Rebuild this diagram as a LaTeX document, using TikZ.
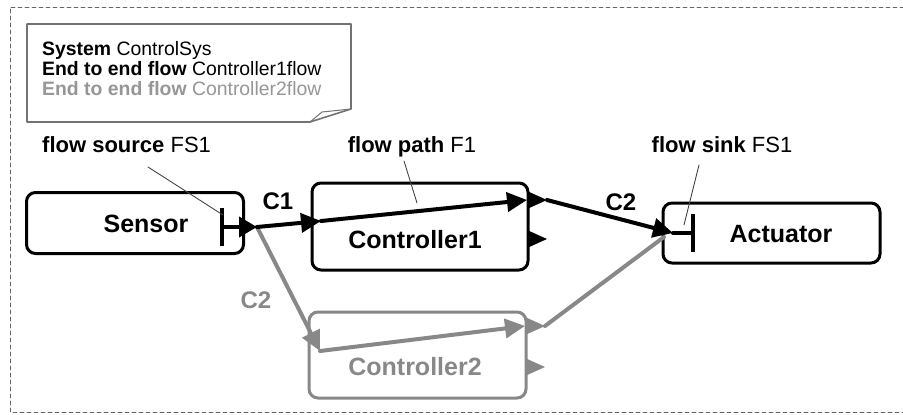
\documentclass[tikz,border=0pt]{standalone}
\usepackage{fontspec}
\setmainfont{Liberation Sans}
\usepackage{tikz}
\usetikzlibrary{arrows.meta, calc}
\definecolor{flowgray}{RGB}{136,136,136}
\definecolor{notegray}{RGB}{150,150,150}
\definecolor{linegray}{RGB}{70,70,70}

\begin{document}
\begin{tikzpicture}[x=1pt, y=-1pt, line cap=round,
	comp/.style={draw, line width=3pt, rounded corners=9pt, inner sep=0pt},
	complabel/.style={font=\fontsize{25}{30}\selectfont\bfseries, anchor=base, inner sep=0pt},
	lbl/.style={font=\fontsize{22}{26}\selectfont, anchor=base, inner sep=0pt},
	conlbl/.style={font=\fontsize{24}{28}\selectfont\bfseries, anchor=base, inner sep=0pt},
	notetext/.style={font=\fontsize{19.4}{23}\selectfont, anchor=base west, inner sep=0pt},
	flow/.style={line width=4pt, -{Triangle[length=20pt, width=19pt]}},
	leader/.style={linegray, line width=0.9pt}]

	\useasboundingbox (0,0) rectangle (903,415);

	% frame and note
	\draw[black!60, line width=0.9pt, dash pattern=on 4pt off 3pt] (904,7) -- (10,7) -- (10,412) -- (904,412);
	\draw[fill=white, draw=black!55, line width=1.6pt, line join=round] (27,24) -- (351,24) -- (351,109) -- (310,122) -- (27,122) -- cycle;
	\draw[black!55, line width=1pt, line join=round] (310,122) -- (322,112) -- (351,109);
	\node[notetext] (sysline) at (42,55) {\textbf{System} ControlSys};
	\node[notetext] (flowone) at (42,75) {\textbf{End to end flow} Controller1flow};
	\node[notetext, text=notegray] (flowtwo) at (42,95) {\textbf{End to end flow} Controller2flow};

	% components
	\node[comp, minimum width=217pt, minimum height=61pt] (sensor) at (135,223) {};
	\node[comp, minimum width=216pt, minimum height=87pt] (ctrlone) at (420,226.5) {};
	\node[comp, draw=flowgray, minimum width=217pt, minimum height=86pt] (ctrltwo) at (417.5,355) {};
	\node[comp, minimum width=217pt, minimum height=60pt] (actuator) at (771.5,233) {};

	\node[complabel] (sensortxt) at (146,232) {Sensor};
	\node[complabel] (ctrlonetxt) at (415,248) {Controller1};
	\node[complabel, text=flowgray] (ctrltwotxt) at (415,375) {Controller2};
	\node[complabel] (actuatortxt) at (781,242) {Actuator};

	% ports
	\coordinate (src) at (220,227);
	\coordinate (sensorOut) at (257,227);
	\coordinate (ctrloneIn) at (321,221);
	\coordinate (ctrloneOut) at (527,200);
	\coordinate (ctrloneOutB) at (527,239);
	\coordinate (ctrltwoIn) at (320,351);
	\coordinate (ctrltwoOut) at (525,326);
	\coordinate (ctrltwoOutB) at (525,367);
	\coordinate (actIn) at (673,233);
	\coordinate (sink) at (695,233);

	\fill (ctrloneOut) -- ++(0,-9) -- ++(20,9) -- ++(-20,9) -- cycle;
	\fill (ctrloneOutB) -- ++(0,-9) -- ++(20,9) -- ++(-20,9) -- cycle;
	\fill[flowgray] (ctrltwoOut) -- ++(0,-9) -- ++(20,9) -- ++(-20,9) -- cycle;
	\fill[flowgray] (ctrltwoOutB) -- ++(0,-9) -- ++(20,9) -- ++(-20,9) -- cycle;

	% second flow
	\draw[flow, flowgray] (sensorOut) -- (ctrltwoIn);
	\draw[flow, flowgray] (ctrltwoIn) -- (ctrltwoOut);
	\draw[line width=4pt, flowgray] ($(ctrltwoOut)+(20,0)$) -- (664,237);

	% first flow
	\draw[line width=4pt, {Bar[width=38pt]}-{Triangle[length=18pt, width=20pt]}] (src) -- (sensorOut);
	\draw[flow] (sensorOut) -- (ctrloneIn);
	\draw[flow] (ctrloneIn) -- (ctrloneOut);
	\draw[flow] ($(ctrloneOut)+(20,0)$) -- (actIn);
	\draw[line width=4pt, -{Bar[width=38pt]}] (actIn) -- (sink);

	% labels
	\node[lbl, anchor=base west] (srclbl) at (42,152) {\textbf{flow source} FS1};
	\node[lbl] (pathlbl) at (412,152) {\textbf{flow path} F1};
	\node[lbl] (sinklbl) at (722,152) {\textbf{flow sink} FS1};
	\node[conlbl] (conone) at (278,209) {C1};
	\node[conlbl] (contwo) at (621,210) {C2};
	\node[conlbl, text=flowgray] (contwob) at (256,308) {C2};

	\draw[leader] (148,167) -- (223,215);
	\draw[leader] (404,161) -- (417,203);
	\draw[leader] (699,165) -- (684,225);
\end{tikzpicture}
\end{document}
